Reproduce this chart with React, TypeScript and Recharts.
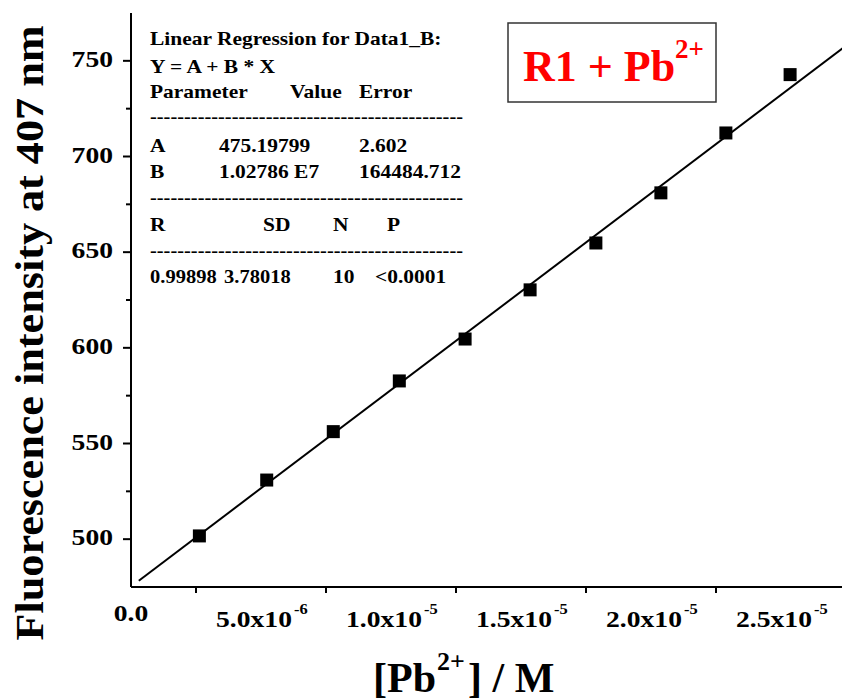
import { Scatter, ScatterChart, XAxis, YAxis } from "recharts";

// Pb2+ concentration (M) and fluorescence intensity at 407 nm
const concentrations = [
  2.63e-6, 5.22e-6, 7.78e-6, 10.32e-6, 12.85e-6, 15.35e-6, 17.88e-6, 20.38e-6, 22.88e-6, 25.35e-6,
];
const intensities = [501.7, 530.9, 556.2, 582.7, 604.6, 630.3, 654.8, 681.0, 712.3, 742.8];

// linear regression Y = A + B * X
const fitA = 475.19799;
const fitB = 1.02786e7;
const fitStart = 3e-7;
const fitEnd = 2.8e-5;

const xMajorTicks = [0, 5e-6, 1e-5, 1.5e-5, 2e-5, 2.5e-5];
const xMinorTicks = [2.5e-6, 7.5e-6, 1.25e-5, 1.75e-5, 2.25e-5, 2.75e-5];
const xTickMantissa = ["0.0", "5.0x10", "1.0x10", "1.5x10", "2.0x10", "2.5x10"];
const xTickExponent = ["", "-6", "-5", "-5", "-5", "-5"];

const yMajorTicks = [500, 550, 600, 650, 700, 750];
const yMinorTicks = [525, 575, 625, 675, 725];

const SERIF = '"Liberation Serif", "Times New Roman", serif';

const points = concentrations.map((x, i) => ({ x, y: intensities[i] }));
const fitLine = [fitStart, fitEnd].map((x) => ({ x, y: fitA + fitB * x }));

type TProps = {
  x: number;
  y: number;
  size: number;
  sx?: number;
  anchor?: "start" | "middle" | "end";
  fill?: string;
  children: React.ReactNode;
};

function T({ x, y, size, sx = 1, anchor = "start", fill = "#000", children }: TProps) {
  return (
    <text
      transform={`translate(${x} ${y}) scale(${sx} 1)`}
      fontSize={size}
      fontFamily={SERIF}
      fontWeight="bold"
      textAnchor={anchor}
      fill={fill}
    >
      {children}
    </text>
  );
}

function XTick(props: any) {
  const { x, y, payload } = props;
  const i = xMajorTicks.indexOf(payload.value);
  if (i < 0) {
    return <line x1={x} x2={x} y1={y} y2={y + 6} stroke="#000" strokeWidth={2} />;
  }
  if (!xTickExponent[i]) {
    return <T x={x} y={y + 34} size={24} sx={1.15} anchor="middle">{xTickMantissa[i]}</T>;
  }
  return (
    <g>
      <T x={x - 7} y={y + 40} size={24} sx={1.15} anchor="middle">{xTickMantissa[i]}</T>
      <T x={x + 33} y={y + 27} size={15} sx={1.1}>{xTickExponent[i]}</T>
    </g>
  );
}

function YTick(props: any) {
  const { x, y, payload } = props;
  const major = yMajorTicks.includes(payload.value);
  return (
    <g>
      <line x1={x - (major ? 8 : 5)} x2={x} y1={y} y2={y} stroke="#000" strokeWidth={2} />
      {major && (
        <T x={x - 18} y={y + 6} size={24} sx={1.15} anchor="end">{payload.value}</T>
      )}
    </g>
  );
}

function Square(props: any) {
  const { cx, cy } = props;
  return <rect x={cx - 6.5} y={cy - 6.5} width={13} height={13} fill="#000" />;
}

const DASHES = "-".repeat(46);

function Dashes({ y }: { y: number }) {
  return (
    <text
      x={150}
      y={y}
      fontSize={19}
      fontFamily={SERIF}
      fontWeight="bold"
      textLength={313}
      lengthAdjust="spacingAndGlyphs"
    >
      {DASHES}
    </text>
  );
}

function Annotations() {
  const s = 19;
  const k = 1.13;
  return (
    <svg
      width={842}
      height={700}
      style={{ position: "absolute", left: 0, top: 0, pointerEvents: "none" }}
    >
      {/* regression summary */}
      <T x={150} y={45} size={s} sx={k}>Linear Regression for Data1_B:</T>
      <T x={150} y={73} size={s} sx={k}>Y = A + B * X</T>
      <T x={150} y={98} size={s} sx={k}>Parameter</T>
      <T x={290} y={98} size={s} sx={k}>Value</T>
      <T x={359} y={98} size={s} sx={k}>Error</T>
      <Dashes y={123} />
      <T x={150} y={152} size={s} sx={k}>A</T>
      <T x={219} y={152} size={s} sx={k}>475.19799</T>
      <T x={359} y={152} size={s} sx={k}>2.602</T>
      <T x={150} y={178} size={s} sx={k}>B</T>
      <T x={219} y={178} size={s} sx={k}>1.02786 E7</T>
      <T x={359} y={178} size={s} sx={k}>164484.712</T>
      <Dashes y={204} />
      <T x={150} y={231} size={s} sx={k}>R</T>
      <T x={263} y={231} size={s} sx={k}>SD</T>
      <T x={333} y={231} size={s} sx={k}>N</T>
      <T x={387} y={231} size={s} sx={k}>P</T>
      <Dashes y={257} />
      <T x={150} y={283} size={s} sx={1.08}>0.99898</T>
      <T x={224} y={283} size={s} sx={1.08}>3.78018</T>
      <T x={333} y={283} size={s} sx={k}>10</T>
      <T x={375} y={283} size={s} sx={k}>&lt;0.0001</T>

      {/* sample label */}
      <rect x={508} y={23} width={208} height={79} fill="#fff" stroke="#333" strokeWidth={1.5} />
      <T x={523} y={81} size={44} fill="#ff0000">R1 + Pb</T>
      <T x={675} y={58} size={27} fill="#ff0000">2+</T>

      {/* axis titles */}
      <text
        transform="translate(43 333) rotate(-90)"
        fontSize={39}
        fontFamily={SERIF}
        fontWeight="bold"
        textAnchor="middle"
        textLength={615}
        lengthAdjust="spacingAndGlyphs"
      >
        Fluorescence intensity at 407 nm
      </text>
      <T x={373} y={692} size={42}>[Pb</T>
      <T x={437} y={670} size={26}>2+</T>
      <T x={468} y={692} size={42}>] / M</T>
    </svg>
  );
}

export default function App() {
  return (
    <div
      style={{
        position: "absolute",
        left: 0,
        top: 0,
        width: 842,
        height: 700,
        overflow: "hidden",
        background: "#fff",
      }}
    >
      <ScatterChart width={860} height={700} margin={{ top: 13, right: 1, bottom: 0, left: 0 }}>
        <XAxis
          xAxisId="top"
          orientation="top"
          type="number"
          dataKey="x"
          domain={[0, 2.8e-5]}
          height={0}
          tick={false}
          tickLine={false}
          axisLine={{ stroke: "#000", strokeWidth: 2 }}
        />
        <XAxis
          type="number"
          dataKey="x"
          domain={[0, 2.8e-5]}
          allowDataOverflow
          ticks={[...xMajorTicks, ...xMinorTicks].sort((a, b) => a - b)}
          interval={0}
          height={113}
          tickSize={0}
          tickMargin={0}
          tickLine={false}
          tick={<XTick />}
          axisLine={{ stroke: "#000", strokeWidth: 2 }}
        />
        <YAxis
          type="number"
          dataKey="y"
          domain={[475, 775]}
          allowDataOverflow
          ticks={[...yMajorTicks, ...yMinorTicks].sort((a, b) => a - b)}
          interval={0}
          width={131}
          tickSize={0}
          tickMargin={0}
          tickLine={false}
          tick={<YTick />}
          axisLine={{ stroke: "#000", strokeWidth: 2 }}
        />
        <Scatter
          data={fitLine}
          line={{ stroke: "#000", strokeWidth: 2 }}
          shape={() => <g />}
          isAnimationActive={false}
        />
        <Scatter data={points} shape={<Square />} isAnimationActive={false} />
      </ScatterChart>
      <Annotations />
    </div>
  );
}
